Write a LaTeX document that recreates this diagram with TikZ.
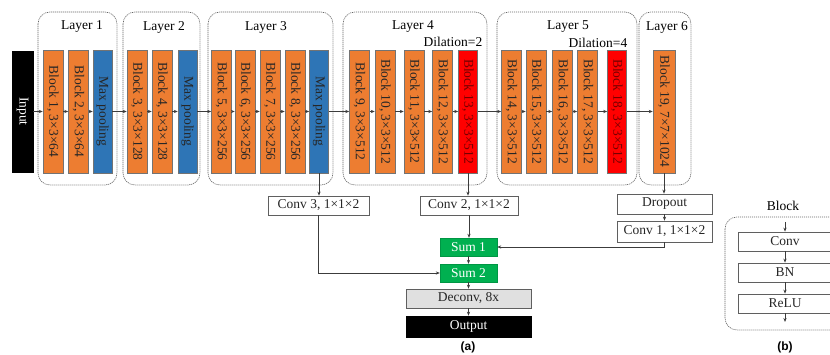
\documentclass[tikz,border=0pt]{standalone}
\usepackage{fontspec}
\setmainfont{Liberation Serif}
\newfontfamily\panelfont{Liberation Sans}
\usetikzlibrary{arrows.meta}

\definecolor{blkorange}{RGB}{237,125,49}
\definecolor{poolblue}{RGB}{46,117,182}
\definecolor{dilred}{RGB}{255,0,0}
\definecolor{sumgreen}{RGB}{0,176,80}
\definecolor{deconvgray}{RGB}{224,224,224}
\definecolor{edgegray}{RGB}{95,95,95}
\definecolor{linegray}{RGB}{60,60,60}

\tikzset{
  txt/.style={font=\fontsize{13.5}{15}\selectfont},
  barbase/.style={draw=black!55, line width=0.5pt, minimum width=123pt,
    minimum height=20pt, inner sep=0pt, txt, text=black!85},
  vbar/.style={barbase, rotate=-90},
  convbar/.style={vbar, fill=blkorange},
  poolbar/.style={vbar, fill=poolblue, minimum height=19pt},
  dilbar/.style={vbar, fill=dilred, text=red!45!black, minimum height=19pt},
  inbar/.style={vbar, fill=black, draw=black, text=white,
    minimum width=121pt, minimum height=21pt},
  layerbox/.style={draw=black!60, line width=0.6pt,
    dash pattern=on 1.2pt off 0.8pt, rounded corners=12pt},
  flatbox/.style={draw=edgegray, line width=0.7pt, inner sep=0pt, txt,
    text=black!85},
  sumbox/.style={fill=sumgreen, draw=sumgreen!85!black, line width=0.4pt,
    minimum width=57pt, minimum height=18pt, inner sep=0pt, txt, text=white},
  arr/.style={draw=linegray, line width=0.7pt, -{Stealth[length=4pt,width=3.2pt]}},
  lbl/.style={txt, inner sep=0pt},
  panel/.style={font=\panelfont\bfseries\fontsize{12}{14}\selectfont, inner sep=0pt},
}

\begin{document}
\begin{tikzpicture}[x=1pt, y=-1pt]
\useasboundingbox (0,0) rectangle (830,355);
\clip (0,0) rectangle (830,355);

% ---------- layer groups ----------
\draw[layerbox] (38,12) rectangle (117,185);
\draw[layerbox] (123,12) rectangle (200,185);
\draw[layerbox] (208,12) rectangle (333,185);
\draw[layerbox] (343,12) rectangle (487,185);
\draw[layerbox] (497,12) rectangle (637,185);
\draw[layerbox] (639,12) rectangle (691,185);

\node[lbl] (l1) at (82,27) {Layer 1};
\node[lbl] (l2) at (164,27) {Layer 2};
\node[lbl] (l3) at (266,27) {Layer 3};
\node[lbl] (l4) at (413,27) {Layer 4};
\node[lbl] (l5) at (568,27) {Layer 5};
\node[lbl] (l6) at (667,27) {Layer 6};
\node[lbl] (d2) at (453,42) {Dilation=2};
\node[lbl] (d4) at (598,43) {Dilation=4};

% ---------- encoder ----------
\node[inbar] (inp) at (22.5,111.5) {Input};

\node[convbar] (b1) at (53,111.5) {Block 1, 3×3×64};
\node[convbar] (b2) at (78.5,111.5) {Block 2, 3×3×64};
\node[poolbar] (mp1) at (102.5,111.5) {Max pooling};

\node[convbar] (b3) at (137,111.5) {Block 3, 3×3×128};
\node[convbar] (b4) at (162,111.5) {Block 4, 3×3×128};
\node[poolbar] (mp2) at (187.5,111.5) {Max pooling};

\node[convbar] (b5) at (221.5,111.5) {Block 5, 3×3×256};
\node[convbar] (b6) at (245,111.5) {Block 6, 3×3×256};
\node[convbar] (b7) at (270,111.5) {Block 7, 3×3×256};
\node[convbar] (b8) at (295,111.5) {Block 8, 3×3×256};
\node[poolbar] (mp3) at (319,111.5) {Max pooling};

\node[convbar] (b9) at (359.5,111.5) {Block 9, 3×3×512};
\node[convbar] (b10) at (385,111.5) {Block 10, 3×3×512};
\node[convbar] (b11) at (414,111.5) {Block 11, 3×3×512};
\node[convbar] (b12) at (442.5,111.5) {Block 12, 3×3×512};
\node[dilbar] (b13) at (468,111.5) {Block 13, 3×3×512};

\node[convbar] (b14) at (511.5,111.5) {Block 14, 3×3×512};
\node[convbar] (b15) at (536,111.5) {Block 15, 3×3×512};
\node[convbar] (b16) at (562.5,111.5) {Block 16, 3×3×512};
\node[convbar] (b17) at (587.5,111.5) {Block 17, 3×3×512};
\node[dilbar] (b18) at (617,111.5) {Block 18, 3×3×512};

\node[convbar, minimum height=22pt] (b19) at (664,111.5) {Block 19, 7×7×1024};

\foreach \a/\b in {inp/b1, b1/b2, b2/mp1, mp1/b3, b3/b4, b4/mp2, mp2/b5,
    b5/b6, b6/b7, b7/b8, b8/mp3, mp3/b9, b9/b10, b10/b11, b11/b12, b12/b13,
    b13/b14, b14/b15, b15/b16, b16/b17, b17/b18, b18/b19}
  \draw[arr] (\a) -- (\b);

% ---------- decoder ----------
\node[flatbox, minimum width=101pt, minimum height=19pt] (c3) at (318.5,205.5) {Conv 3, 1×1×2};
\node[flatbox, minimum width=98pt, minimum height=19pt] (c2) at (469,205.5) {Conv 2, 1×1×2};
\node[flatbox, minimum width=95pt, minimum height=20pt] (drop) at (664.5,204) {Dropout};
\node[flatbox, minimum width=95pt, minimum height=21pt] (c1) at (664.5,231.5) {Conv 1, 1×1×2};

\node[sumbox] (s1) at (468.5,247) {Sum 1};
\node[sumbox] (s2) at (468.5,273) {Sum 2};
\node[flatbox, fill=deconvgray, minimum width=125pt, minimum height=19pt] (dec) at (468.5,298.5) {Deconv, 8x};
\node[flatbox, fill=black, draw=black, text=white, minimum width=125pt, minimum height=21pt] (out) at (468.5,326.5) {Output};
\node[panel] (pa) at (468,347) {(a)};

\draw[arr] (mp3) -- (mp3 |- c3.north);
\draw[arr] (b13) -- (b13 |- c2.north);
\draw[arr] (b19) -- (b19 |- drop.north);
\draw[arr] (drop) -- (c1);
\draw[arr] (c2) -- (c2 |- s1.north);
\draw[arr] (s1) -- (s2);
\draw[arr] (s2) -- (dec);
\draw[arr] (dec) -- (out);
\draw[arr] (c3.south) |- (s2.west);
\draw[arr] (c1.south) |- (s1.east);

% ---------- block detail ----------
\node[lbl] (blab) at (783,206) {Block};
\draw[layerbox] (725,217) rectangle (845,330);
\node[flatbox, minimum width=94pt, minimum height=19pt] (bconv) at (785,241.5) {Conv};
\node[flatbox, minimum width=94pt, minimum height=19pt] (bbn) at (785,272.5) {BN};
\node[flatbox, minimum width=94pt, minimum height=19pt] (brelu) at (785,303.5) {ReLU};
\coordinate (bin) at (785,222);
\coordinate (bout) at (785,322);
\draw[arr] (bin) -- (bconv);
\draw[arr] (bconv) -- (bbn);
\draw[arr] (bbn) -- (brelu);
\draw[arr] (brelu) -- (bout);
\node[panel] (pb) at (785,347) {(b)};
\end{tikzpicture}
\end{document}
